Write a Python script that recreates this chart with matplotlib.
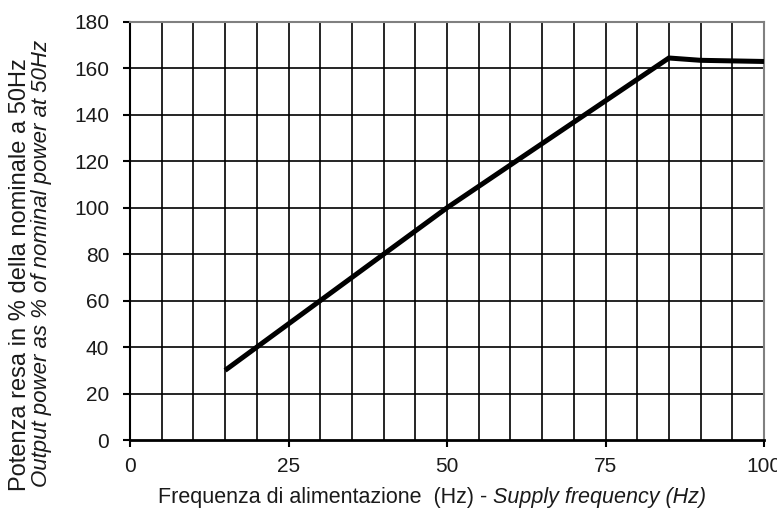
import matplotlib
matplotlib.use("Agg")
import matplotlib.pyplot as plt

# Output power vs supply frequency
freq_hz = [15, 50, 85, 90, 100]
power_pct = [30, 100, 164.5, 163.5, 163]

x_ticks = [0, 25, 50, 75, 100]
y_ticks = [0, 20, 40, 60, 80, 100, 120, 140, 160, 180]
x_grid = list(range(0, 101, 5))

plt.rcParams['font.family'] = ['Liberation Sans', 'DejaVu Sans']

W, H = 777, 513
fig = plt.figure(figsize=(W / 100, H / 100), dpi=100)
ax = fig.add_axes([130 / W, 1 - 440 / H, (764 - 130) / W, (440 - 22) / H])

ax.set_xlim(0, 100)
ax.set_ylim(0, 180)

for xv in x_grid[1:-1]:
    ax.axvline(xv, color='black', lw=1.2, zorder=1)
for yv in y_ticks[1:-1]:
    ax.axhline(yv, color='black', lw=1.2, zorder=1)

ax.plot(freq_hz, power_pct, color='black', lw=3.6, solid_capstyle='butt',
        solid_joinstyle='miter', zorder=3, clip_on=False)

ax.set_xticks(x_ticks)
ax.set_yticks(y_ticks)
ax.tick_params(axis='both', direction='out', length=5, width=1.5,
               labelsize=15, colors='black', labelcolor='#1a1a1a')
ax.tick_params(axis='x', pad=7)
ax.tick_params(axis='y', pad=10)

ax.spines['left'].set_color('black')
ax.spines['left'].set_linewidth(1.5)
ax.spines['bottom'].set_color('black')
ax.spines['bottom'].set_linewidth(2)
ax.spines['top'].set_color('#808080')
ax.spines['top'].set_linewidth(1.5)
ax.spines['right'].set_color('#808080')
ax.spines['right'].set_linewidth(1.5)

# Axis titles: Italian (regular) and English (italic)
fig.text(158 / W, 1 - 497 / H, "Frequenza di alimentazione  (Hz) -",
         ha='left', va='center', fontsize=15.5, color='#1a1a1a')
fig.text(493 / W, 1 - 497 / H, "Supply frequency (Hz)",
         ha='left', va='center', fontsize=15.5, style='italic', color='#1a1a1a')

fig.text(20 / W, 1 - 275 / H, "Potenza resa in % della nominale a 50Hz",
         ha='center', va='center', rotation=90, fontsize=17, color='#1a1a1a')
fig.text(42 / W, 1 - 263 / H, "Output power as % of nominal power at 50Hz",
         ha='center', va='center', rotation=90, fontsize=16, style='italic',
         color='#1a1a1a')

fig.savefig("out.png", dpi=100)
